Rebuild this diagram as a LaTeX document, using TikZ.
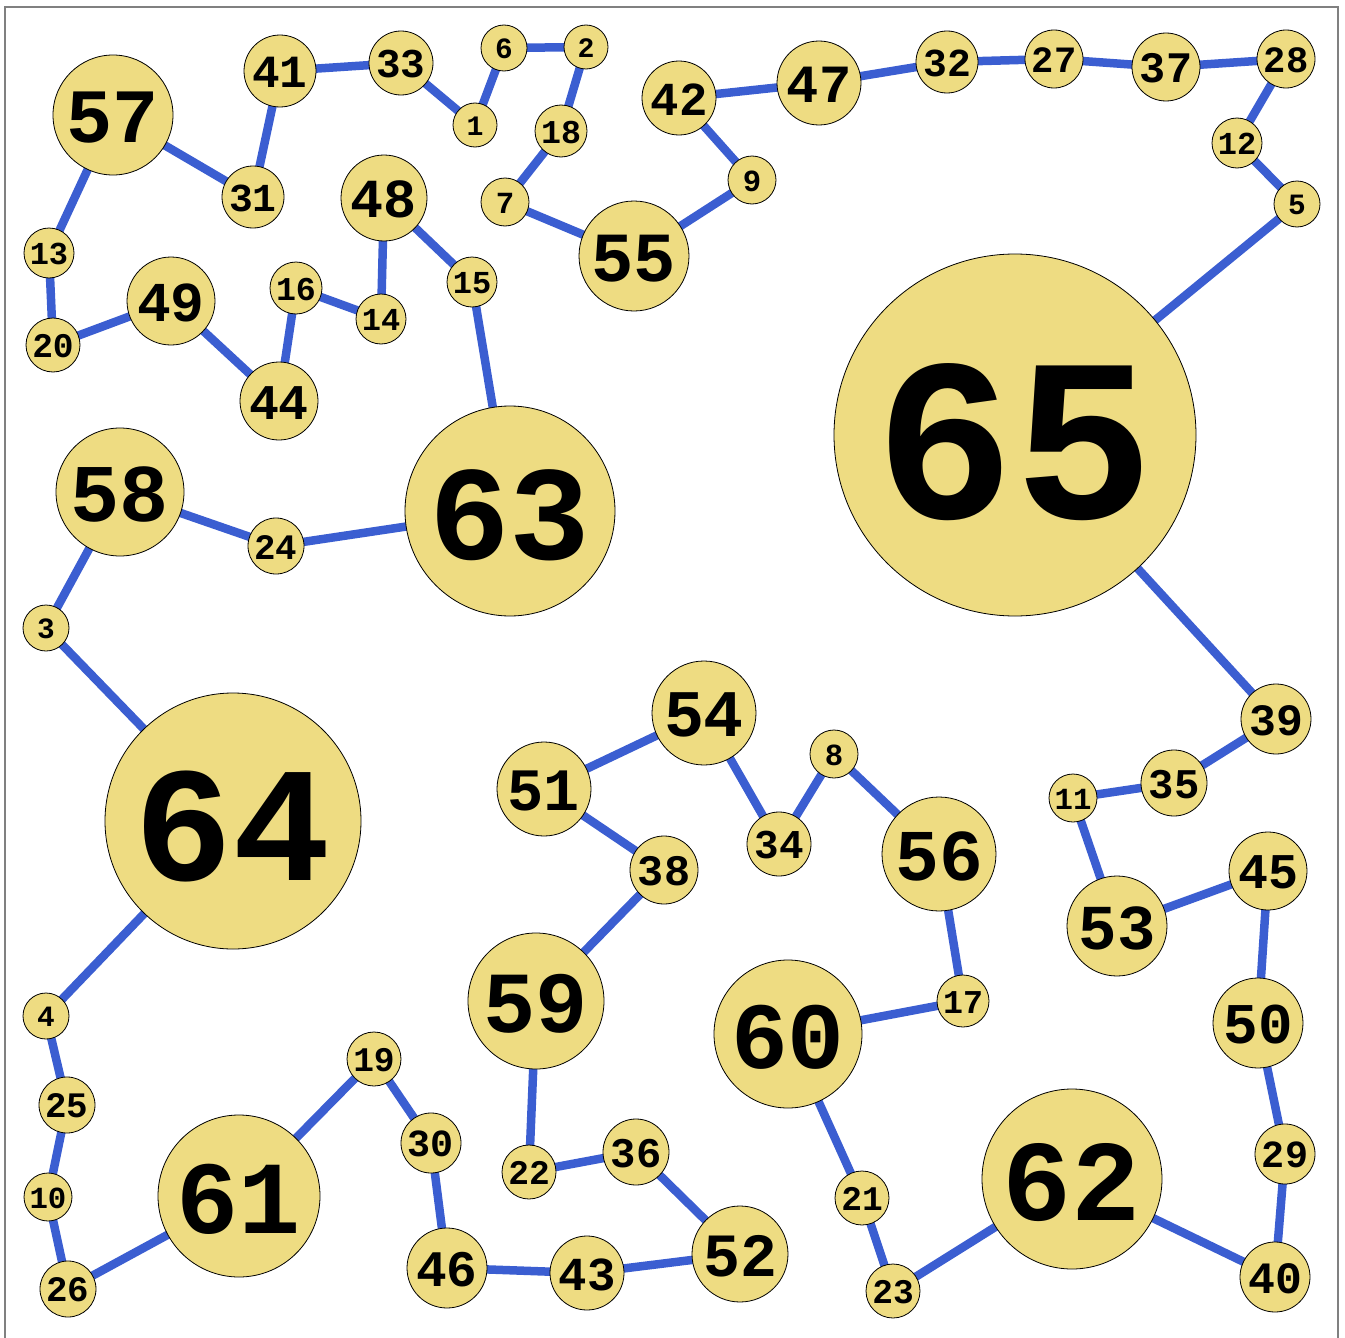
\documentclass[tikz,border=0pt]{standalone}
\usepackage{fontspec}
\newfontfamily\nfont{Liberation Mono}
\usetikzlibrary{backgrounds}
\definecolor{edgeblue}{RGB}{59,94,209}
\definecolor{vfill}{RGB}{238,220,130}
\definecolor{framegray}{RGB}{128,128,128}
\tikzset{
  vert/.style={circle, draw=black, line width=0.8pt, fill=vfill, inner sep=0pt, text=black},
  tour/.style={draw=edgeblue, line width=8.5pt},
  frameline/.style={draw=framegray, line width=1.5pt}
}
\begin{document}
\begin{tikzpicture}[x=1pt,y=-1pt]
\useasboundingbox (0,0) rectangle (1345,1338);
\foreach \n/\x/\y/\r in {
57/113/115/60, 41/280/71/36, 33/401/63/32, 1/475/125/22, 6/504/48/23,
2/586/47/22, 18/561/131/26, 7/505/202/24, 55/634/256/55, 42/679/98/37,
47/819/83/42, 32/947/62/31, 27/1054/59/29, 37/1166/67/34, 28/1286/59/29,
12/1237/143/25, 5/1297/204/23, 9/752/180/24, 31/253/197/31, 48/384/198/43,
15/472/282/25, 16/296/288/26, 14/381/319/25, 13/49/253/25, 20/53/345/27,
49/171/301/44, 44/279/401/39, 63/510/511/105, 58/120/492/64, 24/276/546/28,
3/46/628/23, 65/1015/435/181, 64/233/821/128, 54/704/713/52, 51/544/789/47,
38/664/870/34, 34/779/844/32, 8/834/754/24, 56/939/854/57, 39/1276/719/35,
35/1174/783/33, 11/1073/798/24, 45/1268/871/39, 53/1117/926/50, 59/536/1001/68,
60/788/1034/74, 17/963/1001/26, 50/1258/1023/45, 4/46/1016/23, 25/67/1105/28,
10/48/1197/24, 26/68/1289/28, 61/239/1196/81, 19/374/1059/27, 30/431/1143/30,
46/447/1268/40, 43/587/1273/37, 22/529/1172/27, 36/636/1152/33, 52/740/1254/48,
21/862/1198/27, 23/893/1291/27, 62/1072/1179/90, 29/1285/1154/30, 40/1275/1277/35}
{
  \pgfmathsetmacro\dd{2*\r}
  \pgfmathsetmacro\fs{1.28*\r}
  \pgfmathsetmacro\ys{-0.04*\r}
  \node[vert, minimum size=\dd pt] (n\n) at (\x,\y) {};
  \node[font=\nfont\bfseries\fontsize{\fs pt}{\fs pt}\selectfont, inner sep=0pt, text=black, yshift=\ys pt] (t\n) at (n\n.center) {\n};
}
\begin{pgfonlayer}{background}
\draw[frameline] (5,7) rectangle (1338,1350);
\foreach \a/\b in {
57/13, 13/20, 20/49, 49/44, 44/16, 16/14, 14/48, 48/15, 15/63, 63/24,
24/58, 58/3, 3/64, 64/4, 4/25, 25/10, 10/26, 26/61, 61/19, 19/30,
30/46, 46/43, 43/52, 52/36, 36/22, 22/59, 59/38, 38/51, 51/54, 54/34,
34/8, 8/56, 56/17, 17/60, 60/21, 21/23, 23/62, 62/40, 40/29, 29/50,
50/45, 45/53, 53/11, 11/35, 35/39, 39/65, 65/5, 5/12, 12/28, 28/37,
37/27, 27/32, 32/47, 47/42, 42/9, 9/55, 55/7, 7/18, 18/2, 2/6,
6/1, 1/33, 33/41, 41/31, 31/57}
{
  \draw[tour] (n\a.center) -- (n\b.center);
}
\end{pgfonlayer}
\end{tikzpicture}
\end{document}
